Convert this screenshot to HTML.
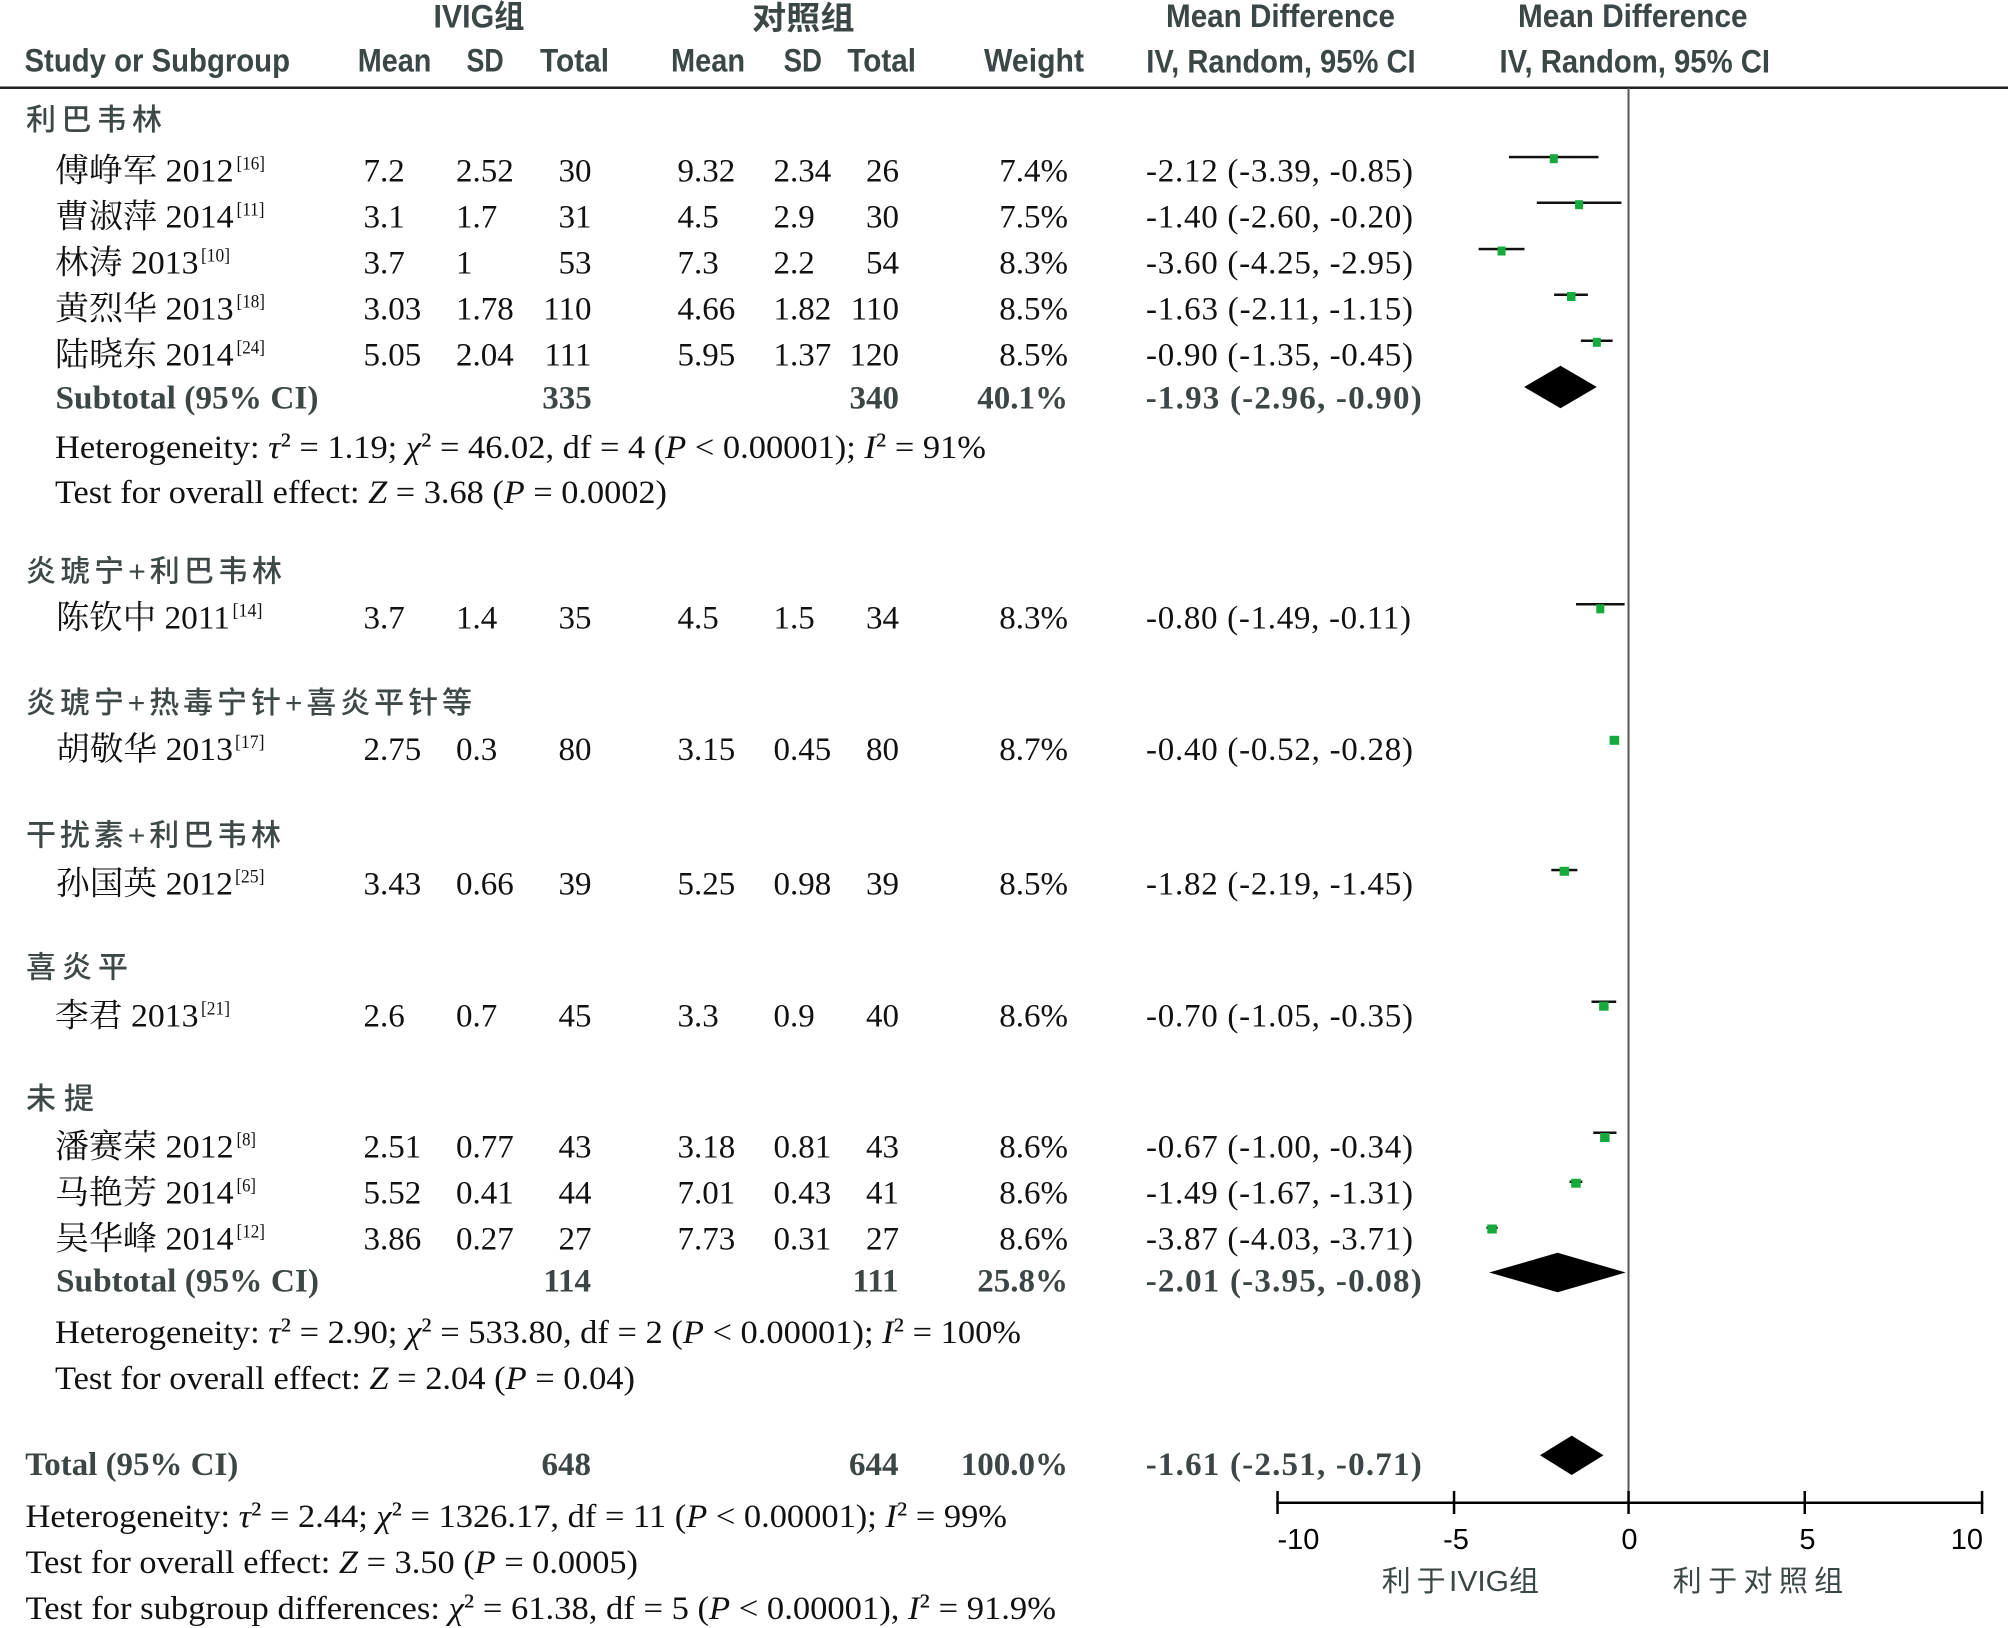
<!DOCTYPE html>
<html>
<head>
<meta charset="utf-8">
<style>
html,body{margin:0;padding:0;background:#fff;width:2008px;height:1628px;overflow:hidden}
svg{display:block}
.h{font-family:"Liberation Sans","Noto Sans CJK SC",sans-serif;font-weight:bold;font-size:32px;fill:#3b4646}
.g{font-family:"Liberation Sans","Noto Sans CJK SC",sans-serif;font-weight:500;font-size:30px;fill:#3e4848}
.d{font-family:"Liberation Serif","Noto Serif CJK SC",serif;font-size:33px;fill:#111}
.b{font-family:"Liberation Serif","Noto Serif CJK SC",serif;font-weight:bold;font-size:33px;fill:#3d4646}
.s{font-family:"Liberation Serif",serif;font-size:19px;fill:#111}
.ax{font-family:"Liberation Sans",sans-serif;font-size:29px;fill:#000}
.al{font-family:"Liberation Sans","Noto Sans CJK SC",sans-serif;font-size:29px;fill:#3b4646}
</style>
</head>
<body>
<svg width="2008" height="1628" viewBox="0 0 2008 1628" xmlns="http://www.w3.org/2000/svg">
<rect width="2008" height="1628" fill="#fff"/>

<!-- Header row 1 -->
<text class="h" x="433.5" y="27.5" textLength="91" lengthAdjust="spacingAndGlyphs">IVIG组</text>
<text class="h" x="752" y="29" textLength="102.5" lengthAdjust="spacingAndGlyphs">对照组</text>
<text class="h" x="1166" y="27" textLength="229" lengthAdjust="spacingAndGlyphs">Mean Difference</text>
<text class="h" x="1518" y="27" textLength="229.5" lengthAdjust="spacingAndGlyphs">Mean Difference</text>
<!-- Header row 2 -->
<text class="h" x="24.5" y="71.7" textLength="265.5" lengthAdjust="spacingAndGlyphs">Study or Subgroup</text>
<text class="h" x="357.8" y="71.7" textLength="73.6" lengthAdjust="spacingAndGlyphs">Mean</text>
<text class="h" x="466.5" y="71.7" textLength="37.2" lengthAdjust="spacingAndGlyphs">SD</text>
<text class="h" x="540" y="71.7" textLength="69" lengthAdjust="spacingAndGlyphs">Total</text>
<text class="h" x="671" y="71.7" textLength="74" lengthAdjust="spacingAndGlyphs">Mean</text>
<text class="h" x="783.6" y="71.7" textLength="38.4" lengthAdjust="spacingAndGlyphs">SD</text>
<text class="h" x="847.4" y="71.7" textLength="68.6" lengthAdjust="spacingAndGlyphs">Total</text>
<text class="h" x="984" y="71.7" textLength="100" lengthAdjust="spacingAndGlyphs">Weight</text>
<text class="h" x="1146.3" y="72.5" textLength="269.3" lengthAdjust="spacingAndGlyphs">IV, Random, 95% CI</text>
<text class="h" x="1499.5" y="72.5" textLength="270.5" lengthAdjust="spacingAndGlyphs">IV, Random, 95% CI</text>

<rect x="0" y="86.5" width="2008" height="2.5" fill="#222"/>
<!-- zero line -->
<rect x="1627.5" y="88" width="2" height="1415" fill="#555"/>

<!-- Group 1 -->
<text class="g" x="26" y="129.8" textLength="136" lengthAdjust="spacing">利巴韦林</text>

<text class="d" x="55" y="181.7" textLength="178.6" lengthAdjust="spacingAndGlyphs">傅峥军 2012</text><text class="s" x="236.5" y="169.7" textLength="28.5" lengthAdjust="spacingAndGlyphs">[16]</text>
<text class="d" x="363.5" y="181.7">7.2</text><text class="d" x="456" y="181.7">2.52</text><text class="d" x="591.5" y="181.7" text-anchor="end">30</text>
<text class="d" x="677.5" y="181.7">9.32</text><text class="d" x="773.5" y="181.7">2.34</text><text class="d" x="899" y="181.7" text-anchor="end">26</text>
<text class="d" x="1068" y="181.7" text-anchor="end">7.4%</text>
<text class="d" x="1146" y="181.7" textLength="267" lengthAdjust="spacing">-2.12 (-3.39, -0.85)</text>

<text class="d" x="55" y="227.7" textLength="178.6" lengthAdjust="spacingAndGlyphs">曹淑萍 2014</text><text class="s" x="236.5" y="215.7" textLength="28" lengthAdjust="spacingAndGlyphs">[11]</text>
<text class="d" x="363.5" y="227.7">3.1</text><text class="d" x="456" y="227.7">1.7</text><text class="d" x="591.5" y="227.7" text-anchor="end">31</text>
<text class="d" x="677.5" y="227.7">4.5</text><text class="d" x="773.5" y="227.7">2.9</text><text class="d" x="899" y="227.7" text-anchor="end">30</text>
<text class="d" x="1068" y="227.7" text-anchor="end">7.5%</text>
<text class="d" x="1146" y="227.7" textLength="267" lengthAdjust="spacing">-1.40 (-2.60, -0.20)</text>

<text class="d" x="55" y="273.7" textLength="143.5" lengthAdjust="spacingAndGlyphs">林涛 2013</text><text class="s" x="201" y="261.7" textLength="29" lengthAdjust="spacingAndGlyphs">[10]</text>
<text class="d" x="363.5" y="273.7">3.7</text><text class="d" x="456" y="273.7">1</text><text class="d" x="591.5" y="273.7" text-anchor="end">53</text>
<text class="d" x="677.5" y="273.7">7.3</text><text class="d" x="773.5" y="273.7">2.2</text><text class="d" x="899" y="273.7" text-anchor="end">54</text>
<text class="d" x="1068" y="273.7" text-anchor="end">8.3%</text>
<text class="d" x="1146" y="273.7" textLength="267" lengthAdjust="spacing">-3.60 (-4.25, -2.95)</text>

<text class="d" x="55" y="319.7" textLength="178.6" lengthAdjust="spacingAndGlyphs">黄烈华 2013</text><text class="s" x="236.5" y="307.7" textLength="28.5" lengthAdjust="spacingAndGlyphs">[18]</text>
<text class="d" x="363.5" y="319.7">3.03</text><text class="d" x="456" y="319.7">1.78</text><text class="d" x="591.5" y="319.7" text-anchor="end">110</text>
<text class="d" x="677.5" y="319.7">4.66</text><text class="d" x="773.5" y="319.7">1.82</text><text class="d" x="899" y="319.7" text-anchor="end">110</text>
<text class="d" x="1068" y="319.7" text-anchor="end">8.5%</text>
<text class="d" x="1146" y="319.7" textLength="267" lengthAdjust="spacing">-1.63 (-2.11, -1.15)</text>

<text class="d" x="55" y="365.7" textLength="178.6" lengthAdjust="spacingAndGlyphs">陆晓东 2014</text><text class="s" x="236.5" y="353.7" textLength="28.5" lengthAdjust="spacingAndGlyphs">[24]</text>
<text class="d" x="363.5" y="365.7">5.05</text><text class="d" x="456" y="365.7">2.04</text><text class="d" x="591.5" y="365.7" text-anchor="end">111</text>
<text class="d" x="677.5" y="365.7">5.95</text><text class="d" x="773.5" y="365.7">1.37</text><text class="d" x="899" y="365.7" text-anchor="end">120</text>
<text class="d" x="1068" y="365.7" text-anchor="end">8.5%</text>
<text class="d" x="1146" y="365.7" textLength="267" lengthAdjust="spacing">-0.90 (-1.35, -0.45)</text>

<text class="b" x="55.5" y="408.3" textLength="263" lengthAdjust="spacingAndGlyphs">Subtotal (95% CI)</text>
<text class="b" x="591.8" y="408.3" text-anchor="end">335</text>
<text class="b" x="899" y="408.3" text-anchor="end">340</text>
<text class="b" x="1068" y="408.3" text-anchor="end">40.1%</text>
<text class="b" x="1145.7" y="408.3" textLength="276" lengthAdjust="spacing">-1.93 (-2.96, -0.90)</text>

<text class="d" x="55" y="458" textLength="931" lengthAdjust="spacingAndGlyphs">Heterogeneity: <tspan font-style="italic">τ</tspan><tspan dy="-3">²</tspan><tspan dy="3"> = 1.19; </tspan><tspan font-style="italic">χ</tspan><tspan dy="-3">²</tspan><tspan dy="3"> = 46.02, df = 4 (</tspan><tspan font-style="italic">P</tspan> &lt; 0.00001); <tspan font-style="italic">I</tspan><tspan dy="-3">²</tspan><tspan dy="3"> = 91%</tspan></text>
<text class="d" x="55" y="503" textLength="612" lengthAdjust="spacingAndGlyphs">Test for overall effect: <tspan font-style="italic">Z</tspan> = 3.68 (<tspan font-style="italic">P</tspan> = 0.0002)</text>

<!-- Group 2 -->
<text class="g" x="26" y="581.4" textLength="256" lengthAdjust="spacing">炎琥宁+利巴韦林</text>
<text class="d" x="56" y="628.5" textLength="174" lengthAdjust="spacingAndGlyphs">陈钦中 2011</text><text class="s" x="232.5" y="616.5" textLength="30" lengthAdjust="spacingAndGlyphs">[14]</text>
<text class="d" x="363.5" y="628.5">3.7</text><text class="d" x="456" y="628.5">1.4</text><text class="d" x="591.5" y="628.5" text-anchor="end">35</text>
<text class="d" x="677.5" y="628.5">4.5</text><text class="d" x="773.5" y="628.5">1.5</text><text class="d" x="899" y="628.5" text-anchor="end">34</text>
<text class="d" x="1068" y="628.5" text-anchor="end">8.3%</text>
<text class="d" x="1146" y="628.5" textLength="265" lengthAdjust="spacing">-0.80 (-1.49, -0.11)</text>

<!-- Group 3 -->
<text class="g" x="26" y="713" textLength="446" lengthAdjust="spacing">炎琥宁+热毒宁针+喜炎平针等</text>
<text class="d" x="56" y="760" textLength="177" lengthAdjust="spacingAndGlyphs">胡敬华 2013</text><text class="s" x="235" y="748" textLength="29.5" lengthAdjust="spacingAndGlyphs">[17]</text>
<text class="d" x="363.5" y="760">2.75</text><text class="d" x="456" y="760">0.3</text><text class="d" x="591.5" y="760" text-anchor="end">80</text>
<text class="d" x="677.5" y="760">3.15</text><text class="d" x="773.5" y="760">0.45</text><text class="d" x="899" y="760" text-anchor="end">80</text>
<text class="d" x="1068" y="760" text-anchor="end">8.7%</text>
<text class="d" x="1146" y="760" textLength="267" lengthAdjust="spacing">-0.40 (-0.52, -0.28)</text>

<!-- Group 4 -->
<text class="g" x="26" y="845.4" textLength="255" lengthAdjust="spacing">干扰素+利巴韦林</text>
<text class="d" x="56" y="894.7" textLength="177" lengthAdjust="spacingAndGlyphs">孙国英 2012</text><text class="s" x="235" y="882.7" textLength="29.5" lengthAdjust="spacingAndGlyphs">[25]</text>
<text class="d" x="363.5" y="894.7">3.43</text><text class="d" x="456" y="894.7">0.66</text><text class="d" x="591.5" y="894.7" text-anchor="end">39</text>
<text class="d" x="677.5" y="894.7">5.25</text><text class="d" x="773.5" y="894.7">0.98</text><text class="d" x="899" y="894.7" text-anchor="end">39</text>
<text class="d" x="1068" y="894.7" text-anchor="end">8.5%</text>
<text class="d" x="1146" y="894.7" textLength="267" lengthAdjust="spacing">-1.82 (-2.19, -1.45)</text>

<!-- Group 5 -->
<text class="g" x="26" y="977.5" textLength="102" lengthAdjust="spacing">喜炎平</text>
<text class="d" x="55" y="1026.5" textLength="143.5" lengthAdjust="spacingAndGlyphs">李君 2013</text><text class="s" x="201" y="1014.5" textLength="29" lengthAdjust="spacingAndGlyphs">[21]</text>
<text class="d" x="363.5" y="1026.5">2.6</text><text class="d" x="456" y="1026.5">0.7</text><text class="d" x="591.5" y="1026.5" text-anchor="end">45</text>
<text class="d" x="677.5" y="1026.5">3.3</text><text class="d" x="773.5" y="1026.5">0.9</text><text class="d" x="899" y="1026.5" text-anchor="end">40</text>
<text class="d" x="1068" y="1026.5" text-anchor="end">8.6%</text>
<text class="d" x="1146" y="1026.5" textLength="267" lengthAdjust="spacing">-0.70 (-1.05, -0.35)</text>

<!-- Group 6 -->
<text class="g" x="26" y="1109" textLength="68" lengthAdjust="spacing">未提</text>
<text class="d" x="55" y="1157.3" textLength="178.6" lengthAdjust="spacingAndGlyphs">潘赛荣 2012</text><text class="s" x="236.5" y="1145.3" textLength="19.5" lengthAdjust="spacingAndGlyphs">[8]</text>
<text class="d" x="363.5" y="1157.3">2.51</text><text class="d" x="456" y="1157.3">0.77</text><text class="d" x="591.5" y="1157.3" text-anchor="end">43</text>
<text class="d" x="677.5" y="1157.3">3.18</text><text class="d" x="773.5" y="1157.3">0.81</text><text class="d" x="899" y="1157.3" text-anchor="end">43</text>
<text class="d" x="1068" y="1157.3" text-anchor="end">8.6%</text>
<text class="d" x="1146" y="1157.3" textLength="267" lengthAdjust="spacing">-0.67 (-1.00, -0.34)</text>

<text class="d" x="55" y="1203.5" textLength="178.6" lengthAdjust="spacingAndGlyphs">马艳芳 2014</text><text class="s" x="236.5" y="1191.5" textLength="19.5" lengthAdjust="spacingAndGlyphs">[6]</text>
<text class="d" x="363.5" y="1203.5">5.52</text><text class="d" x="456" y="1203.5">0.41</text><text class="d" x="591.5" y="1203.5" text-anchor="end">44</text>
<text class="d" x="677.5" y="1203.5">7.01</text><text class="d" x="773.5" y="1203.5">0.43</text><text class="d" x="899" y="1203.5" text-anchor="end">41</text>
<text class="d" x="1068" y="1203.5" text-anchor="end">8.6%</text>
<text class="d" x="1146" y="1203.5" textLength="267" lengthAdjust="spacing">-1.49 (-1.67, -1.31)</text>

<text class="d" x="55" y="1249.7" textLength="178.6" lengthAdjust="spacingAndGlyphs">吴华峰 2014</text><text class="s" x="236.5" y="1237.7" textLength="28.5" lengthAdjust="spacingAndGlyphs">[12]</text>
<text class="d" x="363.5" y="1249.7">3.86</text><text class="d" x="456" y="1249.7">0.27</text><text class="d" x="591.5" y="1249.7" text-anchor="end">27</text>
<text class="d" x="677.5" y="1249.7">7.73</text><text class="d" x="773.5" y="1249.7">0.31</text><text class="d" x="899" y="1249.7" text-anchor="end">27</text>
<text class="d" x="1068" y="1249.7" text-anchor="end">8.6%</text>
<text class="d" x="1146" y="1249.7" textLength="267" lengthAdjust="spacing">-3.87 (-4.03, -3.71)</text>

<text class="b" x="56" y="1291.7" textLength="263" lengthAdjust="spacingAndGlyphs">Subtotal (95% CI)</text>
<text class="b" x="591" y="1291.7" text-anchor="end">114</text>
<text class="b" x="898.5" y="1291.7" text-anchor="end">111</text>
<text class="b" x="1068" y="1291.7" text-anchor="end">25.8%</text>
<text class="b" x="1145.7" y="1291.7" textLength="276" lengthAdjust="spacing">-2.01 (-3.95, -0.08)</text>

<text class="d" x="55" y="1343" textLength="966" lengthAdjust="spacingAndGlyphs">Heterogeneity: <tspan font-style="italic">τ</tspan><tspan dy="-3">²</tspan><tspan dy="3"> = 2.90; </tspan><tspan font-style="italic">χ</tspan><tspan dy="-3">²</tspan><tspan dy="3"> = 533.80, df = 2 (</tspan><tspan font-style="italic">P</tspan> &lt; 0.00001); <tspan font-style="italic">I</tspan><tspan dy="-3">²</tspan><tspan dy="3"> = 100%</tspan></text>
<text class="d" x="55" y="1389" textLength="580" lengthAdjust="spacingAndGlyphs">Test for overall effect: <tspan font-style="italic">Z</tspan> = 2.04 (<tspan font-style="italic">P</tspan> = 0.04)</text>

<!-- Total -->
<text class="b" x="25.3" y="1475" textLength="213" lengthAdjust="spacingAndGlyphs">Total (95% CI)</text>
<text class="b" x="591" y="1475" text-anchor="end">648</text>
<text class="b" x="898.5" y="1475" text-anchor="end">644</text>
<text class="b" x="1068" y="1475" text-anchor="end">100.0%</text>
<text class="b" x="1145.7" y="1475" textLength="276" lengthAdjust="spacing">-1.61 (-2.51, -0.71)</text>

<text class="d" x="25.5" y="1527" textLength="981.5" lengthAdjust="spacingAndGlyphs">Heterogeneity: <tspan font-style="italic">τ</tspan><tspan dy="-3">²</tspan><tspan dy="3"> = 2.44; </tspan><tspan font-style="italic">χ</tspan><tspan dy="-3">²</tspan><tspan dy="3"> = 1326.17, df = 11 (</tspan><tspan font-style="italic">P</tspan> &lt; 0.00001); <tspan font-style="italic">I</tspan><tspan dy="-3">²</tspan><tspan dy="3"> = 99%</tspan></text>
<text class="d" x="25.5" y="1573" textLength="612.5" lengthAdjust="spacingAndGlyphs">Test for overall effect: <tspan font-style="italic">Z</tspan> = 3.50 (<tspan font-style="italic">P</tspan> = 0.0005)</text>
<text class="d" x="25.5" y="1619" textLength="1030.5" lengthAdjust="spacingAndGlyphs">Test for subgroup differences: <tspan font-style="italic">χ</tspan><tspan dy="-3">²</tspan><tspan dy="3"> = 61.38, df = 5 (</tspan><tspan font-style="italic">P</tspan> &lt; 0.00001), <tspan font-style="italic">I</tspan><tspan dy="-3">²</tspan><tspan dy="3"> = 91.9%</tspan></text>

<!-- CI lines -->
<g fill="#111">
<rect x="1509" y="155.8" width="89.5" height="2.5"/>
<rect x="1536.8" y="201.5" width="84.6" height="2.5"/>
<rect x="1478.6" y="247.8" width="45.9" height="2.5"/>
<rect x="1554.1" y="293.5" width="33.8" height="2.5"/>
<rect x="1580.9" y="339.5" width="31.7" height="2.5"/>
<rect x="1576" y="603" width="48.6" height="2.5"/>
<rect x="1610.2" y="736" width="8.4" height="2.5"/>
<rect x="1551.3" y="868.8" width="26.1" height="2.5"/>
<rect x="1591.5" y="1000.5" width="24.7" height="2.5"/>
<rect x="1593.2" y="1131.5" width="23.3" height="2.5"/>
<rect x="1569.6" y="1180.5" width="12.7" height="2.5"/>
<rect x="1486.4" y="1226.5" width="11.3" height="2.5"/>
</g>
<!-- squares -->
<g fill="#16aa3c">
<rect x="1549.8" y="154.2" width="8" height="9"/>
<rect x="1575.1" y="200.2" width="8" height="9"/>
<rect x="1497.6" y="246.5" width="8" height="9"/>
<rect x="1567" y="292" width="8.5" height="9"/>
<rect x="1592.8" y="337.8" width="8" height="9"/>
<rect x="1596.3" y="604.3" width="8" height="9"/>
<rect x="1609.6" y="735.8" width="9.6" height="9"/>
<rect x="1559.6" y="866.8" width="9.5" height="9"/>
<rect x="1599.1" y="1001.7" width="9.5" height="9"/>
<rect x="1600.1" y="1133" width="9.5" height="9"/>
<rect x="1571.2" y="1178.7" width="9.5" height="9"/>
<rect x="1487.3" y="1224.5" width="9.5" height="9"/>
</g>
<!-- diamonds -->
<g fill="#000">
<polygon points="1524.1,387 1560.5,365.7 1596.8,387 1560.5,408.3"/>
<polygon points="1489.2,1272.5 1557.6,1252.8 1625.7,1272.5 1557.6,1292.2"/>
<polygon points="1540,1455.3 1571.7,1435.6 1603.5,1455.3 1571.7,1475"/>
</g>

<!-- axis -->
<rect x="1276.3" y="1501.5" width="707" height="2.5" fill="#000"/>
<g fill="#000">
<rect x="1276.3" y="1491" width="2.5" height="23"/>
<rect x="1452.8" y="1491" width="2.5" height="23"/>
<rect x="1627.3" y="1491" width="2.5" height="23"/>
<rect x="1803.5" y="1491" width="2.5" height="23"/>
<rect x="1980.8" y="1491" width="2.5" height="23"/>
</g>
<text class="ax" x="1277.5" y="1549">-10</text>
<text class="ax" x="1456" y="1549" text-anchor="middle">-5</text>
<text class="ax" x="1629.5" y="1549" text-anchor="middle">0</text>
<text class="ax" x="1807.5" y="1549" text-anchor="middle">5</text>
<text class="ax" x="1983" y="1549" text-anchor="end">10</text>

<text class="al" x="1381.7" y="1591" textLength="64" lengthAdjust="spacing">利于</text>
<text class="al" x="1449" y="1591" textLength="90" lengthAdjust="spacingAndGlyphs">IVIG组</text>
<text class="al" x="1672.7" y="1591" textLength="170.5" lengthAdjust="spacing">利于对照组</text>
</svg>
</body>
</html>
